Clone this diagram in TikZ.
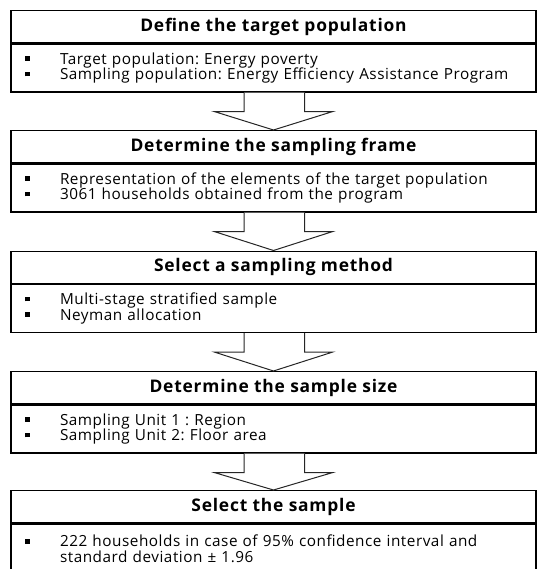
\documentclass[tikz,border=0pt]{standalone}
\usepackage{fontspec}
\setmainfont{Open Sans}[LetterSpace=3.5]
\newfontfamily\headfont{Open Sans}[LetterSpace=4.5]
\frenchspacing
\usetikzlibrary{calc}
\newcommand{\bul}{\makebox[35pt][l]{\rule[0.22em]{4.5pt}{4.5pt}}}
\tikzset{
  head/.style={draw=black, line width=1.3pt, fill=white, minimum width=525pt, minimum height=32pt,
    inner sep=0pt, font=\headfont\fontsize{17.4}{20}\selectfont\bfseries, anchor=north},
  body/.style={draw=black, line width=1.3pt, fill=white, minimum width=525pt, minimum height=48pt,
    inner xsep=14pt, inner ysep=0pt, text width=497pt, align=left,
    font=\fontsize{15.3}{15.5}\selectfont, anchor=north},
  blockarrow/.style={draw=black!85, line width=1pt, fill=white, line join=miter}
}
\begin{document}
\begin{tikzpicture}[x=1pt,y=-1pt]
\useasboundingbox (0,0) rectangle (538,569);
% boxes
\node[head] (h1) at (273.5,10) {Define the target population};
\node[body] (b1) at (h1.south) {\bul Target population: Energy poverty\\ \bul Sampling population: Energy Efficiency Assistance Program};
\node[head] (h2) at (273.5,130) {Determine the sampling frame};
\node[body] (b2) at (h2.south) {\bul Representation of the elements of the target population\\ \bul 3061 households obtained from the program};
\node[head] (h3) at (273.5,250.5) {Select a sampling method};
\node[body] (b3) at (h3.south) {\bul Multi-stage stratified sample\\ \bul Neyman allocation};
\node[head] (h4) at (273.5,371) {Determine the sample size};
\node[body] (b4) at (h4.south) {\bul Sampling Unit 1 : Region\\ \bul Sampling Unit 2: Floor area};
\node[head] (h5) at (273.5,490) {Select the sample};
\node[body, minimum height=50pt] (b5) at (h5.south) {\bul 222 households in case of 95\% confidence interval and\\ \hspace*{35pt}standard deviation ± 1.96};
% block arrows
\foreach \a/\b in {b1/h2, b2/h3, b3/h4, b4/h5}{
  \draw[blockarrow] ($(\a.south)+(-29.5,0)$) -- ($(\a.south)+(-29.5,19)$) -- ($(\a.south)+(-59,19)$)
    -- (\b.north) -- ($(\a.south)+(59,19)$) -- ($(\a.south)+(31,19)$) -- ($(\a.south)+(31,0)$);
}
\end{tikzpicture}
\end{document}
